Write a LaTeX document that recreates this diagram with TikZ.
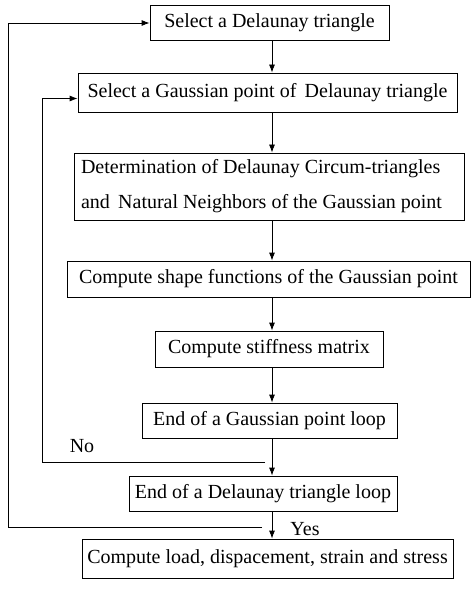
\documentclass[tikz,border=0pt]{standalone}
\usepackage{fontspec}
\setmainfont{Liberation Serif}
\usetikzlibrary{arrows.meta}

\tikzset{
  box/.style={draw, line width=0.8pt, inner sep=2pt, minimum height=35pt,
    font=\fontsize{20}{35}\selectfont},
  flow/.style={line width=0.8pt, -{Latex[length=8pt,width=6pt]}},
  tag/.style={font=\fontsize{20}{24}\selectfont}
}

\begin{document}
\begin{tikzpicture}[x=1pt,y=-1pt]
  \useasboundingbox (0,0) rectangle (471,593);
  % boxes
  \node[box, minimum width=239pt] (tri) at (269.5,23) {Select a Delaunay triangle};
  \node[box, minimum width=379pt, minimum height=39pt] (gp) at (267.5,92.5) {Select a Gaussian point of\ \,Delaunay triangle};
  \node[box, inner xsep=7pt, text width=376pt, minimum height=67pt, align=flush left] (nn) at (269,186.5)
    {Determination of Delaunay Circum-triangles\\and\ \,Natural Neighbors of the Gaussian point};
  \node[box, minimum width=403pt, minimum height=36pt] (shape) at (268.5,279) {Compute shape functions of the Gaussian point};
  \node[box, minimum width=228pt, minimum height=36pt] (stiff) at (269,349) {Compute stiffness matrix};
  \node[box, minimum width=255pt] (endgp) at (269.5,420.5) {End of a Gaussian point loop};
  \node[box, minimum width=268pt] (endtri) at (263,493.5) {End of a Delaunay triangle loop};
  \node[box, minimum width=371pt, minimum height=39pt] (out) at (267.5,558.5) {Compute load, dispacement, strain and stress};
  % main line
  \coordinate (spine) at (272,0);
  \draw[flow] (tri.south -| spine) -- (gp.north -| spine);
  \draw[flow] (gp.south -| spine) -- (nn.north -| spine);
  \draw[flow] (nn.south -| spine) -- (shape.north -| spine);
  \draw[flow] (shape.south -| spine) -- (stiff.north -| spine);
  \draw[flow] (stiff.south -| spine) -- (endgp.north -| spine);
  \draw[flow] (endgp.south -| spine) -- (endtri.north -| spine);
  \draw[flow] (endtri.south -| spine) -- (out.north -| spine);
  % loops back
  \coordinate (inR) at (265,462);
  \coordinate (inL) at (42,462);
  \coordinate (outR) at (262,527);
  \coordinate (outL) at (8,527);
  \draw[flow] (inR) -- (inL) |- ([yshift=-6pt]gp.west);
  \draw[flow] (outR) -- (outL) |- (tri.west);
  \node[tag] (no) at (82,446) {No};
  \node[tag] (yes) at (305,529) {Yes};
\end{tikzpicture}
\end{document}
